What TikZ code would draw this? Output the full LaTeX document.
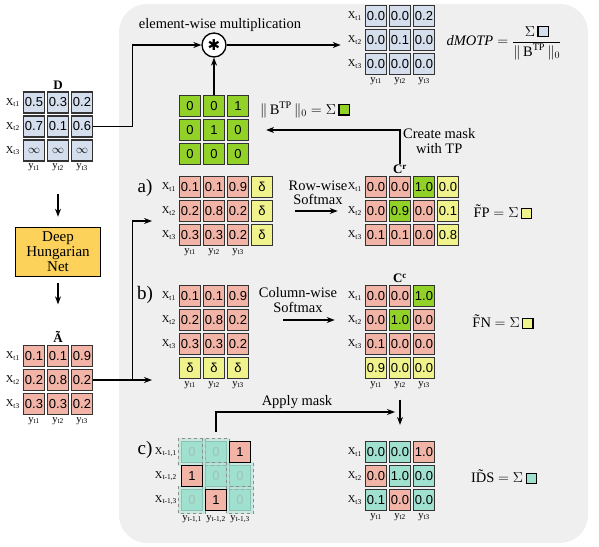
\documentclass[tikz,border=0pt]{standalone}
\usepackage{fontspec}
\usepackage{amsmath}
\setmainfont{Liberation Serif}
\setsansfont{Liberation Sans}
\newfontfamily\symfont{DejaVu Sans}
\definecolor{panel}{RGB}{239,239,239}
\definecolor{bluec}{RGB}{212,222,236}
\definecolor{pinkc}{RGB}{242,180,166}
\definecolor{greenc}{RGB}{146,210,40}
\definecolor{yellc}{RGB}{240,242,140}
\definecolor{tealc}{RGB}{160,224,206}
\definecolor{netc}{RGB}{252,210,90}
\usetikzlibrary{arrows.meta, positioning, calc}
\newcommand{\sqbox}[1]{{\setlength{\fboxsep}{0pt}\setlength{\fboxrule}{1.2pt}\fcolorbox{black}{#1}{\rule{0pt}{9pt}\hspace{9pt}}}}

\begin{document}
\begin{tikzpicture}[x=1pt, y=-1pt,
    cell/.style={draw=black!80, line width=1.2pt, minimum size=21pt, inner sep=0pt, font=\sffamily\fontsize{13}{13}\selectfont},
    zero/.style={cell, fill=tealc, draw=tealc!75!black, text=black!35},
    mask/.style={fill=tealc, fill opacity=0.45, draw=black!45, dashed, line width=0.6pt},
    lbl/.style={inner sep=1pt, font=\fontsize{10.5}{10.5}\selectfont},
    ttl/.style={inner sep=1pt, font=\bfseries\fontsize{13}{13}\selectfont},
    txt/.style={align=center, inner sep=1pt, font=\fontsize{14.5}{14.5}\selectfont},
    tag/.style={inner sep=0pt, font=\fontsize{19}{19}\selectfont},
    net/.style={draw, line width=1.6pt, fill=netc, align=center, minimum width=85pt, minimum height=49pt, font=\fontsize{15}{15}\selectfont},
    arr/.style={-{Stealth[length=8pt,width=6pt]}, line width=1.2pt}
]
\useasboundingbox (0,0) rectangle (599,546);
\fill[panel, rounded corners=28pt] (119,4) rectangle (588,543);

% left column
\foreach \row [count=\r] in {{0.5,0.3,0.2},{0.7,0.1,0.6},{$\infty$,$\infty$,$\infty$}}
  \foreach \v [count=\c] in \row
    \node[cell, fill=bluec] (D-\r-\c) at ({10+24*\c},{78.5+24*\r}) {\v};
\foreach \r in {1,2,3} \node[lbl, left=2pt of D-\r-1] (Dx\r) {X\textsubscript{t\r}};
\foreach \c in {1,2,3} \node[lbl, below=1pt of D-3-\c] (Dy\c) {y\textsubscript{t\c}};
\node[ttl, above=1pt of D-1-2] (Dt) {D};

\node[net] (dhn) at (58,252) {Deep\\Hungarian\\Net};

\foreach \row [count=\r] in {{0.1,0.1,0.9},{0.2,0.8,0.2},{0.3,0.3,0.2}}
  \foreach \v [count=\c] in \row
    \node[cell, fill=pinkc] (A-\r-\c) at ({10+24*\c},{332+24*\r}) {\v};
\foreach \r in {1,2,3} \node[lbl, left=2pt of A-\r-1] (Ax\r) {X\textsubscript{t\r}};
\foreach \c in {1,2,3} \node[lbl, below=1pt of A-3-\c] (Ay\c) {y\textsubscript{t\c}};
\node[ttl, above=1pt of A-1-2] (At) {Ã};

% multiplication
\node[circle, draw, fill=white, line width=1.3pt, minimum size=24pt, inner sep=0pt, font=\symfont\fontsize{15}{15}\selectfont] (mul) at (214,45) {✱};
\node[txt] (multxt) at (220,25) {element-wise multiplication};

\foreach \row [count=\r] in {{0.0,0.0,0.2},{0.0,0.1,0.0},{0.0,0.0,0.0}}
  \foreach \v [count=\c] in \row
    \node[cell, fill=bluec] (M-\r-\c) at ({352+24*\c},{-8+24*\r}) {\v};
\foreach \r in {1,2,3} \node[lbl, left=2pt of M-\r-1] (Mx\r) {X\textsubscript{t\r}};
\foreach \c in {1,2,3} \node[lbl, below=1pt of M-3-\c] (My\c) {y\textsubscript{t\c}};
\node[txt] (motp) at (504,43) {$\text{\textit{dMOTP}} = \dfrac{\Sigma\,\sqbox{bluec}}{\|\,\text{B}^{\text{TP}}\,\|_0}$};

\foreach \row [count=\r] in {{0,0,1},{0,1,0},{0,0,0}}
  \foreach \v [count=\c] in \row
    \node[cell, fill=greenc] (B-\r-\c) at ({166+24*\c},{82+24*\r}) {\v};
\node[txt] (btp) at (305,110) {$\|\,\text{B}^{\text{TP}}\,\|_0 = \Sigma$\,\sqbox{greenc}};

% a) row-wise
\node[tag] (ta) at (145,188) {a)};
\foreach \row [count=\r] in {{pinkc/0.1,pinkc/0.1,pinkc/0.9,yellc/δ},{pinkc/0.2,pinkc/0.8,pinkc/0.2,yellc/δ},{pinkc/0.3,pinkc/0.3,pinkc/0.2,yellc/δ}}
  \foreach \f/\v [count=\c] in \row
    \node[cell, fill=\f] (ma-\r-\c) at ({166+24*\c},{163+24*\r}) {\v};
\foreach \r in {1,2,3} \node[lbl, left=2pt of ma-\r-1] (max\r) {X\textsubscript{t\r}};
\foreach \c in {1,2,3} \node[lbl, below=1pt of ma-3-\c] (may\c) {y\textsubscript{t\c}};
\node[txt] (rowsm) at (318,193) {Row-wise\\Softmax};

\foreach \row [count=\r] in {{pinkc/0.0,pinkc/0.0,greenc/1.0,yellc/0.0},{pinkc/0.0,greenc/0.9,pinkc/0.0,yellc/0.1},{pinkc/0.1,pinkc/0.1,pinkc/0.0,yellc/0.8}}
  \foreach \f/\v [count=\c] in \row
    \node[cell, fill=\f] (Cr-\r-\c) at ({352+24*\c},{163+24*\r}) {\v};
\foreach \r in {1,2,3} \node[lbl, left=2pt of Cr-\r-1] (Crx\r) {X\textsubscript{t\r}};
\node[ttl, above=1pt of Cr-1-2] (Crt) {C\textsuperscript{r}};
\node[txt, anchor=west] (mktp) at (402,141) {Create mask\\with TP};
\node[txt] (fp) at (503,212) {\~{F}P $= \Sigma$\,\sqbox{yellc}};

% b) column-wise
\node[tag] (tb) at (145,295) {b)};
\foreach \row [count=\r] in {{pinkc/0.1,pinkc/0.1,pinkc/0.9},{pinkc/0.2,pinkc/0.8,pinkc/0.2},{pinkc/0.3,pinkc/0.3,pinkc/0.2},{yellc/δ,yellc/δ,yellc/δ}}
  \foreach \f/\v [count=\c] in \row
    \node[cell, fill=\f] (mb-\r-\c) at ({166+24*\c},{272+24*\r}) {\v};
\foreach \r in {1,2,3} \node[lbl, left=2pt of mb-\r-1] (mbx\r) {X\textsubscript{t\r}};
\foreach \c in {1,2,3} \node[lbl, below=1pt of mb-4-\c] (mby\c) {y\textsubscript{t\c}};
\node[txt] (colsm) at (298,300) {Column-wise\\Softmax};

\foreach \row [count=\r] in {{pinkc/0.0,pinkc/0.0,greenc/1.0},{pinkc/0.0,greenc/1.0,pinkc/0.0},{pinkc/0.1,pinkc/0.0,pinkc/0.0},{yellc/0.9,yellc/0.0,yellc/0.0}}
  \foreach \f/\v [count=\c] in \row
    \node[cell, fill=\f] (Cc-\r-\c) at ({352+24*\c},{272+24*\r}) {\v};
\foreach \r in {1,2,3} \node[lbl, left=2pt of Cc-\r-1] (Ccx\r) {X\textsubscript{t\r}};
\foreach \c in {1,2,3} \node[lbl, below=1pt of Cc-4-\c] (Ccy\c) {y\textsubscript{t\c}};
\node[ttl, above=1pt of Cc-1-2] (Cct) {C\textsuperscript{c}};
\node[txt] (fn) at (503,322) {\~{F}N $= \Sigma$\,\sqbox{yellc}};

% c) previous assignment
\node[tag] (tc) at (145,450) {c)};
\foreach \r/\c in {1/1,1/2,2/2,2/3,3/1,3/3}
  \node[zero] (mc-\r-\c) at ({168+24*\c},{428+24*\r}) {0};
\foreach \r/\c in {1/1,1/2,2/2,2/3,3/1,3/3}
  \draw[mask] ($(mc-\r-\c.north west)+(-2.5,-2.5)$) rectangle ($(mc-\r-\c.south east)+(2.5,2.5)$);
\foreach \r/\c in {1/3,2/1,3/2}
  \node[cell, fill=pinkc, draw=black] (mc-\r-\c) at ({168+24*\c},{428+24*\r}) {1};
\foreach \r in {1,2,3} \node[lbl, left=3pt of mc-\r-1] (mcx\r) {X\textsubscript{t-1,\r}};
\foreach \c in {1,2,3} \node[lbl, below=3pt of mc-3-\c] (mcy\c) {y\textsubscript{t-1,\c}};
\node[txt] (apply) at (297,402) {Apply mask};
\coordinate (maskin) at (395,412);

\foreach \row [count=\r] in {{tealc/0.0,tealc/0.0,pinkc/1.0},{pinkc/0.0,tealc/1.0,tealc/0.0},{tealc/0.1,pinkc/0.0,tealc/0.0}}
  \foreach \f/\v [count=\c] in \row
    \node[cell, fill=\f] (ids-\r-\c) at ({352+24*\c},{428+24*\r}) {\v};
\foreach \r in {1,2,3} \node[lbl, left=2pt of ids-\r-1] (idsx\r) {X\textsubscript{t\r}};
\foreach \c in {1,2,3} \node[lbl, below=1pt of ids-3-\c] (idsy\c) {y\textsubscript{t\c}};
\node[txt] (idsw) at (504,477) {I\~{D}S $= \Sigma$\,\sqbox{tealc}};

% connectors
\coordinate (ain) at (152,221);
\coordinate (bin) at (152,380);
\draw[arr, shorten <=22pt, shorten >=10pt] (Dy2.south) -- (dhn.north);
\draw[arr, shorten <=6pt, shorten >=26pt] (dhn.south) -- (At.north);
\draw[arr] (D-2-3.east) -- ++(39,0) |- (mul.west);
\draw[arr] (B-1-2.north) -- (mul.south);
\draw[arr, shorten >=6pt] (mul.east) -- (mul.east -| Mx2.west);
\draw[arr, shorten >=17pt] (Crt.north) |- (B-2-3.east);
\draw[arr] (A-2-3.east) -- (bin);
\draw[arr] (A-2-3.east) -- ++(39,0) |- (ain);
\draw[arr, shorten <=22pt, shorten >=9pt] (ma-2-4.east) -- (Crx2.west);
\draw[arr, shorten <=34pt, shorten >=12pt] (mb-2-3.east) -- (Ccx2.west);
\draw[arr, shorten <=9pt] (mc-1-2.north) |- (maskin);
\draw[arr, shorten <=10pt, shorten >=16pt] (Ccy2.south) -- (ids-1-2.north);
\end{tikzpicture}
\end{document}
